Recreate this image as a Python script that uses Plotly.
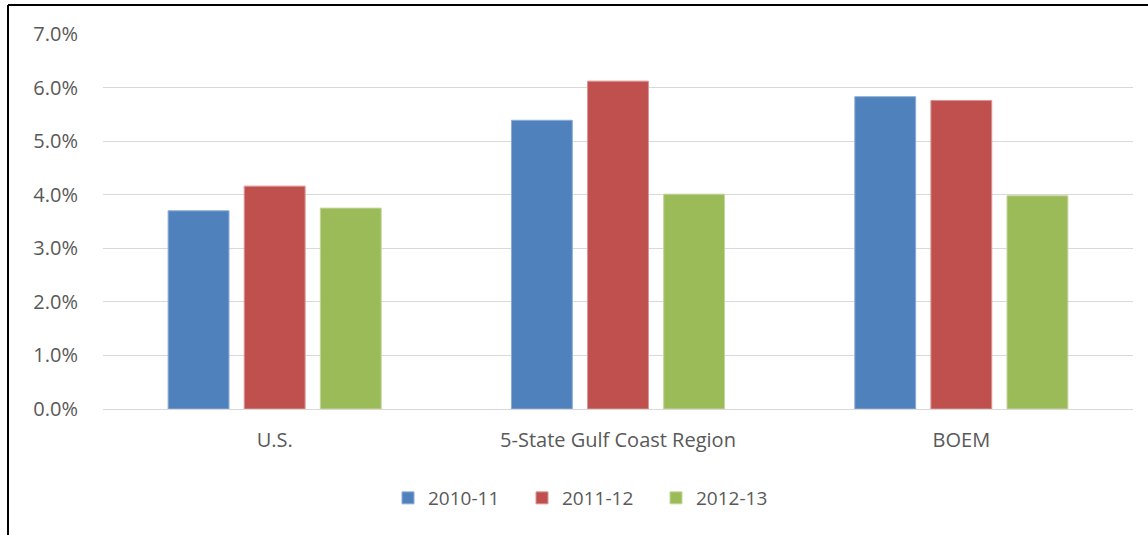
import plotly.graph_objects as go

categories = ["U.S.", "5-State Gulf Coast Region", "BOEM"]
series_names = ["2010-11", "2011-12", "2012-13"]
values_2010_11 = [0.0370, 0.0539, 0.0583]
values_2011_12 = [0.0416, 0.0612, 0.0576]
values_2012_13 = [0.0375, 0.0401, 0.0398]
colors = ["#4F81BD", "#C0504D", "#9BBB59"]
edge_colors = ["#8EACD8", "#DA9593", "#C3D69B"]
y_ticks = [0, 0.01, 0.02, 0.03, 0.04, 0.05, 0.06, 0.07]

W, H = 1148, 535
L, R, T, B = 103, 15, 34, 126
pw, ph = W - L - R, H - T - B

def px_x(x):
    return (x - L) / pw

def px_y(y):
    return (H - B - y) / ph

fig = go.Figure()
for name, vals, c, ec in zip(series_names, [values_2010_11, values_2011_12, values_2012_13], colors, edge_colors):
    fig.add_trace(go.Bar(x=categories, y=vals, name=name, marker=dict(color=c, line=dict(color=ec, width=1))))

font_family = "Open Sans, Liberation Sans, sans-serif"
fig.update_layout(
    width=W, height=H,
    margin=dict(l=L, r=R, t=T, b=B),
    paper_bgcolor="white", plot_bgcolor="white",
    barmode="group", bargap=0.335, bargroupgap=0.2,
    font=dict(family=font_family, color="#595959", size=20),
    legend=dict(orientation="h", x=px_x(589), xanchor="center", y=px_y(498), yanchor="middle",
                font=dict(size=19, color="#595959"), itemwidth=30, traceorder="normal",
                entrywidth=89, entrywidthmode="pixels"),
    xaxis=dict(showline=True, linecolor="#d9d9d9", linewidth=1, ticks="", tickfont=dict(size=20, color="#595959"),
               ticklabelstandoff=13),
    yaxis=dict(range=[0, 0.07], tickvals=y_ticks, tickformat=".1%", showgrid=True, gridcolor="#d9d9d9",
               gridwidth=1, zeroline=False, showline=False, ticks="", ticklabelstandoff=24,
               tickfont=dict(size=20, color="#595959")),
    shapes=[
        dict(type="line", xref="paper", yref="paper", x0=px_x(8), x1=px_x(1148), y0=px_y(5), y1=px_y(5),
             line=dict(color="black", width=2)),
        dict(type="line", xref="paper", yref="paper", x0=px_x(8), x1=px_x(8), y0=px_y(5), y1=px_y(540),
             line=dict(color="black", width=2)),
    ],
)
fig.write_html("out.html", config={"displayModeBar": False},
               post_script="document.body.style.margin='0';document.body.style.overflow='hidden';")
